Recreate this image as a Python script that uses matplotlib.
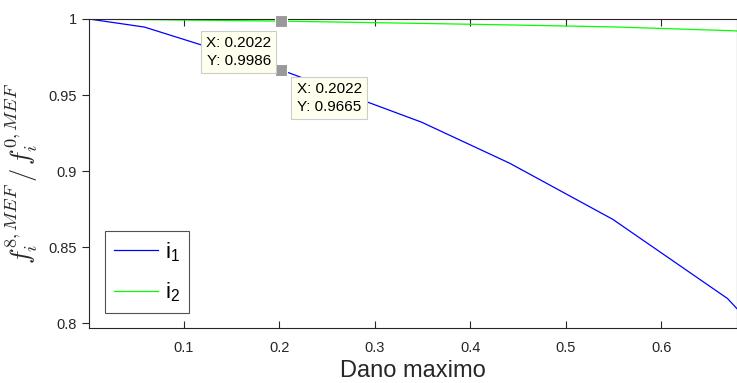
import numpy as np
import matplotlib
matplotlib.use("Agg")
import matplotlib.pyplot as plt

plt.rcParams['font.family'] = ['Liberation Sans', 'DejaVu Sans']
plt.rcParams['mathtext.fontset'] = 'cm'

# data
dano = [0.001, 0.059, 0.2022, 0.349, 0.441, 0.549, 0.669, 0.68]
i1 = [1.0, 0.9947, 0.9665, 0.9322, 0.9053, 0.8684, 0.8164, 0.809]
i2 = [1.0, 0.9996, 0.9986, 0.9971, 0.9961, 0.9948, 0.9924, 0.9921]
xticks = [0.1, 0.2, 0.3, 0.4, 0.5, 0.6]
yticks = [0.8, 0.85, 0.9, 0.95, 1.0]
yticklabels = ['0.8', '0.85', '0.9', '0.95', '1']
tip_x = 0.2022
tip_y = [0.9986, 0.9665]

fig = plt.figure(figsize=(7.37, 3.83), dpi=100)
ax = fig.add_axes([89/737, 55/383, 1 - 89/737, (328 - 19)/383])

ax.plot(dano, i1, color='#0000ff', lw=0.9, label=r'i$\mathregular{_1}$')
ax.plot(dano, i2, color='#00ff00', lw=0.9, label=r'i$\mathregular{_2}$')

ax.set_xlim(0.001, 0.679)
ax.set_ylim(0.797, 1.0)
ax.set_xticks(xticks)
ax.set_xticklabels([str(t) for t in xticks])
ax.set_yticks(yticks)
ax.set_yticklabels(yticklabels)

for s in ax.spines.values():
    s.set_color('#262626')
    s.set_linewidth(0.8)
ax.tick_params(axis='x', direction='in', top=True, length=5, colors='#262626',
               labelsize=10.5, pad=9)
ax.tick_params(axis='y', direction='out', length=5, colors='#262626',
               labelsize=10.5, pad=4)

ax.set_xlabel('Dano maximo', fontsize=17, color='#262626', labelpad=4)
ax.set_ylabel(r'$f_i^{8,MEF}\,/\,f_i^{0,MEF}$', fontsize=19, color='#262626',
              labelpad=6)

# data tips
for ty in tip_y:
    ax.plot([tip_x], [ty], marker='s', ms=8, color='#999999', mec='white',
            mew=0.8, clip_on=False, zorder=5)
bbox = dict(boxstyle='square,pad=0.35', fc='#ffffee', ec='#cccccc', lw=0.8)
ax.annotate('X: 0.2022\nY: 0.9986', xy=(tip_x, tip_y[0]), xytext=(-7.4, -11),
            textcoords='offset points', ha='right', va='top', fontsize=11,
            bbox=bbox, linespacing=1.3, zorder=6)
ax.annotate('X: 0.2022\nY: 0.9665', xy=(tip_x, tip_y[1]), xytext=(11, -8.9),
            textcoords='offset points', ha='left', va='top', fontsize=11,
            bbox=bbox, linespacing=1.3, zorder=6)

leg = ax.legend(loc='lower left', bbox_to_anchor=(0.0247, 0.0485), fontsize=16,
                frameon=True, fancybox=False, edgecolor='#262626',
                borderaxespad=0, handlelength=2.0, handletextpad=0.3,
                borderpad=0.4, labelspacing=0.75)
leg.get_frame().set_linewidth(0.8)

fig.savefig('out.png', dpi=100)
